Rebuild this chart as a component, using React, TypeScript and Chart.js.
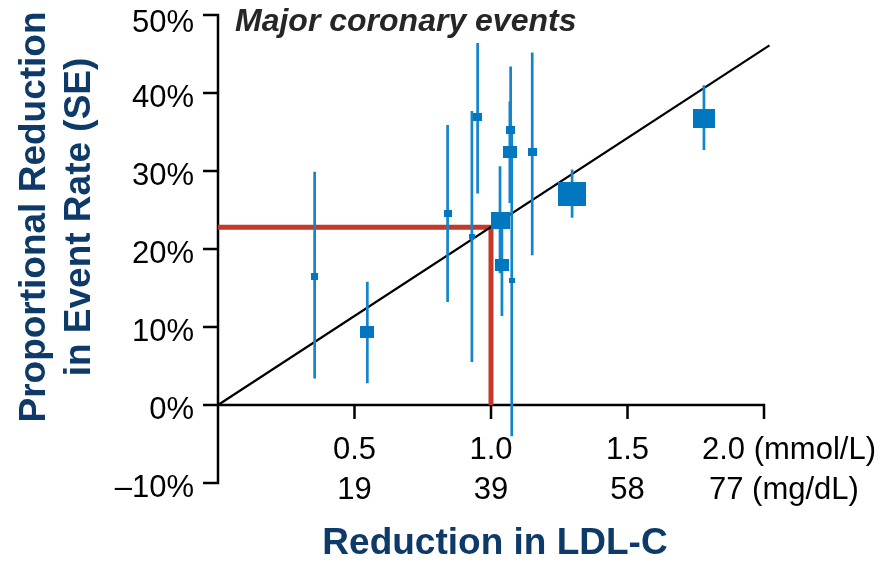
import React, { useEffect, useRef } from 'react';
import { Chart, registerables } from 'chart.js';

Chart.register(...registerables);

// Trial results: absolute LDL-C reduction (mmol/L) vs proportional reduction in major coronary events (%)
const ldlReduction = [0.354, 0.547, 0.841, 0.93, 0.951, 1.033, 1.04, 1.072, 1.069, 1.076, 1.151, 1.297, 1.78];
const eventReduction = [16.5, 9.3, 24.6, 21.6, 36.9, 23.7, 18.0, 35.3, 32.4, 15.9, 32.4, 27.1, 36.7];
const seLow = [3.4, 2.8, 13.2, 5.5, 27.1, 16.9, 11.4, 27.2, 25.9, -4.0, 19.2, 24.0, 32.7];
const seHigh = [29.9, 15.8, 35.9, 37.7, 46.4, 30.6, 24.7, 43.4, 38.9, 35.8, 45.2, 30.2, 41.0];
// Relative statistical weight of each trial (sets the box area)
const trialWeight = [1.7, 5.8, 2.0, 1.0, 2.6, 11.2, 5.8, 2.6, 5.8, 1.0, 2.4, 23.0, 14.4];

// Fitted relationship: ~22.8% reduction per 1 mmol/L
const trendX = [0, 2.02];
const trendY = [0, 46.1];

// Highlighted reading at 1.0 mmol/L
const refX = [0, 1.0, 1.0];
const refY = [22.8, 22.8, 0];

// Axes
const yTicks = [-10, 0, 10, 20, 30, 40, 50];
const xTicks = [0.5, 1.0, 1.5, 2.0];
const mmolLabels = ['0.5', '1.0', '1.5', '2.0 (mmol/L)'];
const mgdlLabels = ['19', '39', '58', '77 (mg/dL)'];

const chartTitle = 'Major coronary events';
const xTitle = 'Reduction in LDL-C';
const yTitle = ['Proportional Reduction', 'in Event Rate (SE)'];

const FONT = '"Liberation Sans", Arial, Helvetica, sans-serif';
const NAVY = '#0d3a68';
const BOX_BLUE = '#0077bf';
const BAR_BLUE = '#1485cc';
const RED = '#c3392b';

const axesPlugin = {
  id: 'ldlAxes',
  beforeDatasetsDraw(chart: any) {
    const { ctx, scales } = chart;
    const xs = scales.x;
    const ys = scales.y;
    const x0 = xs.getPixelForValue(0);
    const yZero = ys.getPixelForValue(0);
    const yTop = ys.getPixelForValue(50);
    const yBot = ys.getPixelForValue(-10);
    const xEnd = xs.getPixelForValue(2.0);

    ctx.save();
    ctx.strokeStyle = '#000';
    ctx.lineWidth = 2.5;
    ctx.lineCap = 'butt';

    // y axis line + ticks
    ctx.beginPath();
    ctx.moveTo(x0, yTop - 1.25);
    ctx.lineTo(x0, yBot + 1.25);
    yTicks.forEach((t) => {
      const p = ys.getPixelForValue(t);
      ctx.moveTo(x0 - 15, p);
      ctx.lineTo(x0, p);
    });
    ctx.stroke();

    // x axis line at 0% + ticks
    ctx.beginPath();
    ctx.moveTo(x0, yZero);
    ctx.lineTo(xEnd + 1.25, yZero);
    xTicks.forEach((t) => {
      const p = xs.getPixelForValue(t);
      ctx.moveTo(p, yZero);
      ctx.lineTo(p, yZero + 14);
    });
    ctx.stroke();

    // y tick labels
    ctx.fillStyle = '#000';
    ctx.font = `31px ${FONT}`;
    ctx.textAlign = 'right';
    ctx.textBaseline = 'middle';
    yTicks.forEach((t) => {
      const p = ys.getPixelForValue(t);
      const label = (t < 0 ? '\u2013' + Math.abs(t) : String(t)) + '%';
      ctx.fillText(label, x0 - 24, p + (t === 50 ? 8 : 5));
    });

    // x tick labels (mmol/L row and mg/dL row)
    xTicks.forEach((t, i) => {
      const p = xs.getPixelForValue(t);
      const last = i === xTicks.length - 1;
      ctx.textAlign = last ? 'left' : 'center';
      ctx.fillText(mmolLabels[i], last ? p - 62 : p, yZero + 45);
      ctx.fillText(mgdlLabels[i], last ? p - 55 : p, yZero + 85);
    });

    // chart title
    ctx.fillStyle = '#262626';
    ctx.font = `italic bold 32px ${FONT}`;
    ctx.textAlign = 'left';
    ctx.textBaseline = 'alphabetic';
    ctx.fillText(chartTitle, 235, 31);

    // axis titles
    ctx.fillStyle = NAVY;
    ctx.font = `bold 37px ${FONT}`;
    ctx.textAlign = 'center';
    ctx.fillText(xTitle, (x0 + xEnd) / 2 + 4, 554);

    const yMid = 217;
    [45, 90].forEach((bx, i) => {
      ctx.save();
      ctx.translate(bx, yMid);
      ctx.rotate(-Math.PI / 2);
      ctx.fillText(yTitle[i], 0, 0);
      ctx.restore();
    });

    ctx.restore();
  },
};

function makeBox(side: number): HTMLCanvasElement {
  const c = document.createElement('canvas');
  c.width = Math.max(4, Math.round(side * 1.15));
  c.height = Math.max(4, Math.round(side));
  const g = c.getContext('2d')!;
  g.fillStyle = BOX_BLUE;
  g.fillRect(0, 0, c.width, c.height);
  return c;
}

export default function App() {
  const canvasRef = useRef<HTMLCanvasElement | null>(null);

  useEffect(() => {
    document.body.style.margin = '0';
    const canvas = canvasRef.current;
    if (!canvas) return;

    const boxes = trialWeight.map((w) => makeBox(5 * Math.sqrt(w)));

    const errorBars: { x: number; y: number | null }[] = [];
    ldlReduction.forEach((x, i) => {
      errorBars.push({ x, y: seLow[i] });
      errorBars.push({ x, y: seHigh[i] });
      errorBars.push({ x, y: null });
    });

    const chart = new Chart(canvas, {
      type: 'scatter',
      data: {
        datasets: [
          {
            type: 'scatter',
            label: 'Trials',
            data: ldlReduction.map((x, i) => ({ x, y: eventReduction[i] })),
            pointStyle: (c: any) => boxes[c.dataIndex],
            pointRadius: 4,
            order: 0,
          } as any,
          {
            type: 'line',
            label: 'SE',
            data: errorBars,
            borderColor: BAR_BLUE,
            borderWidth: 2.7,
            pointRadius: 0,
            spanGaps: false,
            showLine: true,
            clip: false,
            order: 1,
          } as any,
          {
            type: 'line',
            label: 'Trend',
            data: trendX.map((x, i) => ({ x, y: trendY[i] })),
            borderColor: '#000',
            borderWidth: 2.2,
            pointRadius: 0,
            showLine: true,
            clip: false,
            order: 2,
          } as any,
          {
            type: 'line',
            label: 'Reference',
            data: refX.map((x, i) => ({ x, y: refY[i] })),
            borderColor: RED,
            borderWidth: 5,
            borderJoinStyle: 'miter',
            borderCapStyle: 'butt',
            pointRadius: 0,
            showLine: true,
            clip: false,
            order: 3,
          } as any,
        ],
      },
      options: {
        responsive: false,
        animation: false,
        layout: { padding: { left: 218, right: 124, top: 15, bottom: 80 } },
        scales: {
          x: { type: 'linear', min: 0, max: 2.0, display: false },
          y: { type: 'linear', min: -10, max: 50, display: false },
        },
        plugins: {
          legend: { display: false },
          tooltip: { enabled: false },
        },
      },
      plugins: [axesPlugin],
    });

    return () => chart.destroy();
  }, []);

  return (
    <div style={{ width: 888, height: 563, background: '#fff' }}>
      <canvas ref={canvasRef} width={888} height={563} style={{ display: 'block' }} />
    </div>
  );
}
